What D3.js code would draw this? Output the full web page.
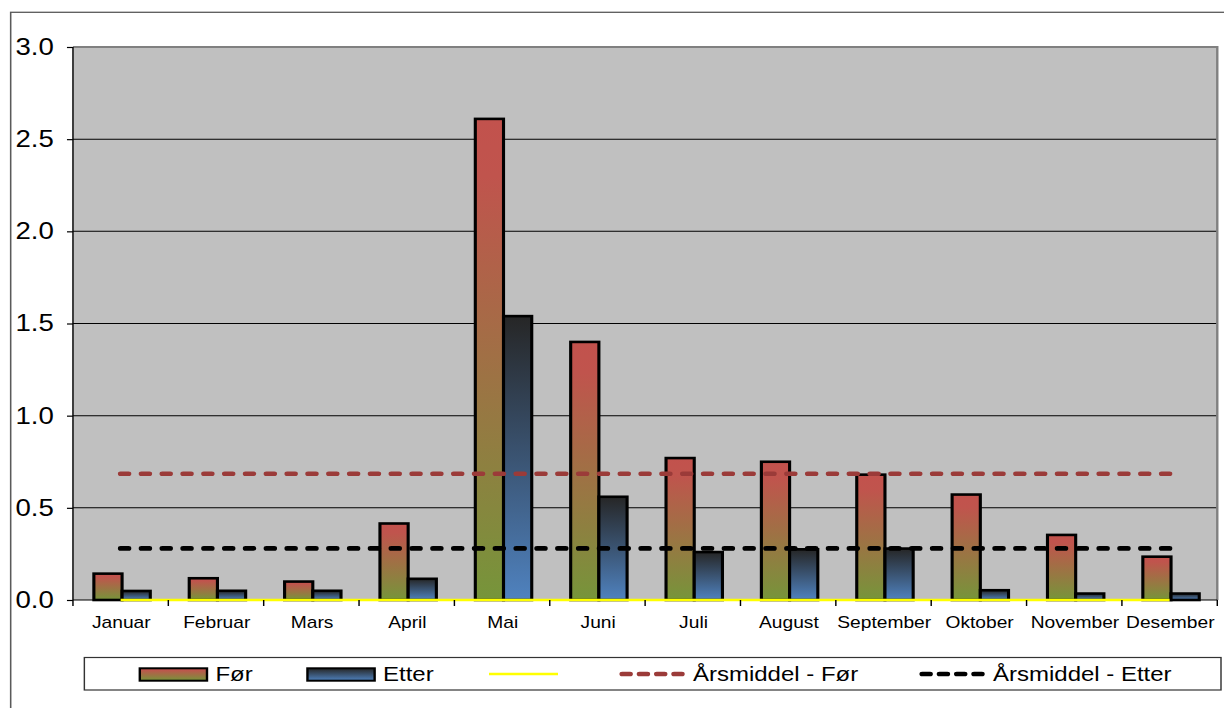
<!DOCTYPE html>
<html>
<head>
<meta charset="utf-8">
<script src="https://cdn.jsdelivr.net/npm/d3@7"></script>
<style>
  html, body { margin: 0; padding: 0; background: #ffffff; }
  svg { display: block; }
  text { font-family: "Liberation Sans", Arial, sans-serif; fill: #000; }
</style>
</head>
<body>
<svg id="chart" width="1224" height="708"></svg>
<script>
// Months on the category axis
const months = ["Januar", "Februar", "Mars", "April", "Mai", "Juni", "Juli",
                "August", "September", "Oktober", "November", "Desember"];

// Monthly values before and after
const forValues   = [0.143, 0.118, 0.100, 0.415, 2.61, 1.40, 0.77, 0.75, 0.68, 0.572, 0.353, 0.235];
const etterValues = [0.049, 0.050, 0.050, 0.115, 1.54, 0.56, 0.26, 0.275, 0.279, 0.053, 0.035, 0.035];

// Zero reference series (yellow) and annual means
const nullSerie       = [0, 0, 0, 0, 0, 0, 0, 0, 0, 0, 0, 0];
const aarsmiddelFor   = [0.685, 0.685, 0.685, 0.685, 0.685, 0.685, 0.685, 0.685, 0.685, 0.685, 0.685, 0.685];
const aarsmiddelEtter = [0.28, 0.28, 0.28, 0.28, 0.28, 0.28, 0.28, 0.28, 0.28, 0.28, 0.28, 0.28];

// Y axis ticks
const yTicks = [0, 0.5, 1.0, 1.5, 2.0, 2.5, 3.0];

// Legend labels
const legendLabels = ["Før", "Etter", "", "Årsmiddel - Før", "Årsmiddel - Etter"];

// The drawing is laid out on a narrower canvas and stretched to the page width
const W = 1020, H = 708;
const svg = d3.select("#chart")
  .attr("viewBox", `0 0 ${W} ${H}`)
  .attr("preserveAspectRatio", "none");

const plot = { left: 60.8, right: 1014.4, top: 47, bottom: 600 };

const x = d3.scaleBand().domain(months).range([plot.left, plot.right]).padding(0);
const xs = d3.scaleBand().domain(["for", "etter"]).range([1.2, x.bandwidth() + 1.2])
  .paddingInner(0).paddingOuter(0.69);
const y = d3.scaleLinear().domain([0, 3]).range([plot.bottom, plot.top]);

// Gradients for the bars
const defs = svg.append("defs");
const gFor = defs.append("linearGradient").attr("id", "gradFor")
  .attr("x1", 0).attr("y1", 0).attr("x2", 0).attr("y2", 1);
gFor.append("stop").attr("offset", 0).attr("stop-color", "#C2524D");
gFor.append("stop").attr("offset", 0.12).attr("stop-color", "#C0544D");
gFor.append("stop").attr("offset", 1).attr("stop-color", "#76953A");
const gEtter = defs.append("linearGradient").attr("id", "gradEtter")
  .attr("x1", 0).attr("y1", 0).attr("x2", 0).attr("y2", 1);
gEtter.append("stop").attr("offset", 0).attr("stop-color", "#262626");
gEtter.append("stop").attr("offset", 1).attr("stop-color", "#4F82BF");

// Outer chart frame
svg.append("rect")
  .attr("x", 8.9).attr("y", 12.3).attr("width", 2000).attr("height", 2000)
  .attr("fill", "none").attr("stroke", "#5a5a5a").attr("stroke-width", 1.3);

// Plot area background
svg.append("rect")
  .attr("x", plot.left).attr("y", plot.top)
  .attr("width", plot.right - plot.left).attr("height", plot.bottom - plot.top)
  .attr("fill", "#C0C0C0");

// Horizontal gridlines
svg.append("g").selectAll("line")
  .data(yTicks.filter(d => d > 0 && d < 3))
  .join("line")
  .attr("x1", plot.left).attr("x2", plot.right)
  .attr("y1", d => y(d)).attr("y2", d => y(d))
  .attr("stroke", "#000").attr("stroke-width", 1);

// Plot area border (top and right)
svg.append("path")
  .attr("d", `M${plot.left},${plot.top}H${plot.right}V${plot.bottom}`)
  .attr("fill", "none").attr("stroke", "#808080").attr("stroke-width", 2);

// Bars
const series = [
  { key: "for", values: forValues, fill: "url(#gradFor)" },
  { key: "etter", values: etterValues, fill: "url(#gradEtter)" }
];
const barW = xs.bandwidth();
series.forEach(s => {
  svg.append("g").selectAll("rect")
    .data(months.map((m, i) => ({ m, v: s.values[i] })))
    .join("rect")
    .attr("x", d => x(d.m) + xs(s.key))
    .attr("y", d => y(d.v))
    .attr("width", barW)
    .attr("height", d => y(0) - y(d.v))
    .attr("fill", s.fill)
    .attr("stroke", "#000")
    .attr("stroke-width", 2.6);
});

// Axes lines
svg.append("line")
  .attr("x1", plot.left).attr("x2", plot.left)
  .attr("y1", plot.top).attr("y2", plot.bottom)
  .attr("stroke", "#000").attr("stroke-width", 1.2);
svg.append("line")
  .attr("x1", plot.left).attr("x2", plot.right)
  .attr("y1", plot.bottom).attr("y2", plot.bottom)
  .attr("stroke", "#000").attr("stroke-width", 1.2);

// Series lines through category centres
const line = d3.line()
  .x((d, i) => x(months[i]) + x.bandwidth() / 2)
  .y(d => y(d));

svg.append("path").datum(nullSerie)
  .attr("d", line).attr("fill", "none")
  .attr("stroke", "#FFFF00").attr("stroke-width", 2.6);

svg.append("path").datum(aarsmiddelFor)
  .attr("d", line).attr("fill", "none")
  .attr("stroke", "#9B3B39").attr("stroke-width", 4.6)
  .attr("stroke-linecap", "round").attr("stroke-dasharray", "6.6,10.75");

svg.append("path").datum(aarsmiddelEtter)
  .attr("d", line).attr("fill", "none")
  .attr("stroke", "#000").attr("stroke-width", 4.6)
  .attr("stroke-linecap", "round").attr("stroke-dasharray", "6.6,10.75");

// Y axis ticks and labels
const yAxis = svg.append("g")
  .attr("transform", `translate(${plot.left},0)`)
  .call(d3.axisLeft(y).tickValues(yTicks).tickFormat(d3.format(".1f"))
    .tickSize(5).tickPadding(11));
yAxis.select(".domain").remove();
yAxis.selectAll(".tick line").attr("stroke", "#000").attr("stroke-width", 1.2);
yAxis.selectAll(".tick text")
  .attr("font-family", "Liberation Sans, Arial, sans-serif")
  .attr("font-size", 23).attr("fill", "#000");

// X axis: ticks at category boundaries, labels at centres
const boundaries = months.map(m => x(m)).concat([plot.right]);
svg.append("g").selectAll("line")
  .data(boundaries)
  .join("line")
  .attr("x1", d => d).attr("x2", d => d)
  .attr("y1", plot.bottom).attr("y2", plot.bottom + 6)
  .attr("stroke", "#000").attr("stroke-width", 1.2);

svg.append("g").selectAll("text")
  .data(months)
  .join("text")
  .attr("x", d => x(d) + x.bandwidth() / 2 + 0.6)
  .attr("y", 628.3)
  .attr("text-anchor", "middle")
  .attr("font-size", 16)
  .text(d => d);

// Legend
const legend = svg.append("g");
legend.append("rect")
  .attr("x", 70.3).attr("y", 657.5).attr("width", 947.2).attr("height", 32.5)
  .attr("fill", "#fff").attr("stroke", "#333").attr("stroke-width", 1.2);

const legendItems = [
  { type: "bar", fill: "url(#gradFor)", x: 116.5, label: legendLabels[0] },
  { type: "bar", fill: "url(#gradEtter)", x: 256.2, label: legendLabels[1] },
  { type: "line", stroke: "#FFFF00", dash: null, x: 407.5, label: legendLabels[2] },
  { type: "line", stroke: "#9B3B39", dash: "6.6,7.8", x: 516.5, label: legendLabels[3] },
  { type: "line", stroke: "#000", dash: "6.6,7.8", x: 766.5, label: legendLabels[4] }
];
legendItems.forEach(it => {
  if (it.type === "bar") {
    legend.append("rect")
      .attr("x", it.x).attr("y", 668.3).attr("width", 56).attr("height", 12.4)
      .attr("fill", it.fill).attr("stroke", "#000").attr("stroke-width", 2);
    legend.append("text")
      .attr("x", it.x + 63).attr("y", 681.4)
      .attr("font-size", 20).text(it.label);
  } else {
    const seg = legend.append("line")
      .attr("x1", it.dash ? it.x + 2 : it.x).attr("x2", it.dash ? it.x + 56 : it.x + 57.5)
      .attr("y1", 674).attr("y2", 674)
      .attr("stroke", it.stroke);
    if (it.dash) {
      seg.attr("stroke-width", 4.6).attr("stroke-linecap", "round")
        .attr("stroke-dasharray", it.dash);
    } else {
      seg.attr("stroke-width", 2.6);
    }
    if (it.label) {
      legend.append("text")
        .attr("x", it.x + 61).attr("y", 681.4)
        .attr("font-size", 20).text(it.label);
    }
  }
});
</script>
</body>
</html>
